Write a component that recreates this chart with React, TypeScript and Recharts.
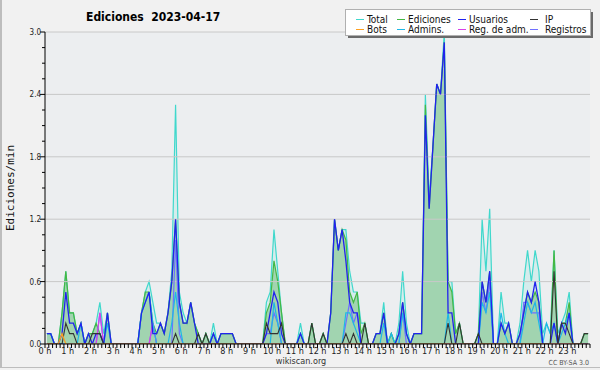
import { ComposedChart, Area, Line, XAxis, YAxis, ReferenceLine, ReferenceArea } from 'recharts';

// one value per 10 minutes, 6 per row = one hour per row
const total = [
  0.1, 0.1, 0, 0, 0.3, 0.7,
  0.3, 0.3, 0.1, 0.2, 0, 0.1,
  0.1, 0.2, 0.4, 0.1, 0.3, 0,
  0, 0, 0, 0, 0, 0,
  0, 0.3, 0.5, 0.6, 0.4, 0.2,
  0.2, 0.1, 0.3, 0.7, 2.3, 0.5,
  0.3, 0.2, 0.4, 0.2, 0.1, 0,
  0.1, 0, 0.2, 0, 0.1, 0.1,
  0.1, 0.1, 0, 0, 0, 0,
  0, 0, 0, 0, 0.4, 0.5,
  1.1, 0.7, 0.3, 0, 0, 0,
  0, 0.2, 0, 0, 0.2, 0,
  0, 0.1, 0, 0.3, 1.2, 0.9,
  1.1, 1.1, 0.7, 0.5, 0.5, 0.2,
  0.2, 0, 0, 0.1, 0.1, 0.4,
  0, 0.1, 0, 0.2, 0.7, 0.2,
  0, 0.1, 0.1, 0.1, 2.4, 1.4,
  1.9, 2.5, 2.4, 3.0, 0.6, 0.6,
  0.1, 0.2, 0, 0, 0, 0,
  0.1, 1.2, 0.7, 1.3, 0, 0,
  0.5, 0.2, 0.2, 0, 0, 0.2,
  0.6, 0.9, 0.6, 0.9, 0.7, 0.1,
  0.2, 0.1, 0.9, 0.1, 0.2, 0.3,
  0.5, 0, 0, 0, 0.1, 0.1,
];

const ediciones = [
  0.1, 0.1, 0, 0, 0.3, 0.7,
  0.3, 0.3, 0.1, 0.2, 0, 0.1,
  0.1, 0.2, 0.1, 0, 0.3, 0,
  0, 0, 0, 0, 0, 0,
  0, 0.3, 0.5, 0.5, 0.2, 0.1,
  0.2, 0.1, 0.3, 0.6, 1.2, 0.4,
  0.2, 0.2, 0.4, 0.2, 0.1, 0,
  0.1, 0, 0.1, 0, 0.1, 0.1,
  0.1, 0.1, 0, 0, 0, 0,
  0, 0, 0, 0, 0.3, 0.4,
  0.8, 0.6, 0.3, 0, 0, 0,
  0, 0.1, 0, 0, 0.2, 0,
  0, 0.1, 0, 0.3, 1.2, 0.9,
  1.1, 1.0, 0.5, 0.4, 0.5, 0.1,
  0.2, 0, 0, 0.1, 0.1, 0.3,
  0, 0.1, 0, 0.1, 0.4, 0.1,
  0, 0.1, 0.1, 0.1, 2.3, 1.3,
  1.9, 2.5, 2.4, 2.9, 0.6, 0.5,
  0.1, 0.2, 0, 0, 0, 0,
  0.1, 0.6, 0.4, 0.7, 0, 0,
  0.2, 0.1, 0.2, 0, 0, 0.1,
  0.3, 0.5, 0.4, 0.5, 0.4, 0,
  0, 0, 0.9, 0, 0.2, 0.2,
  0.4, 0, 0, 0, 0.1, 0.1,
];

const usuarios = [
  0.1, 0.1, 0, 0, 0.1, 0.5,
  0.2, 0.2, 0.1, 0.2, 0, 0.1,
  0, 0.1, 0.1, 0, 0.3, 0,
  0, 0, 0, 0, 0, 0,
  0, 0.3, 0.4, 0.5, 0.1, 0.1,
  0.2, 0.1, 0.3, 0.6, 1.2, 0.4,
  0.2, 0.2, 0.4, 0.2, 0, 0,
  0, 0, 0.1, 0, 0.1, 0.1,
  0.1, 0.1, 0, 0, 0, 0,
  0, 0, 0, 0, 0.1, 0.3,
  0.5, 0.4, 0.1, 0, 0, 0,
  0, 0.1, 0, 0, 0, 0,
  0, 0, 0, 0.3, 1.2, 0.9,
  1.1, 0.8, 0.4, 0.3, 0.3, 0,
  0, 0, 0, 0.1, 0.1, 0.3,
  0, 0, 0, 0.1, 0.4, 0.1,
  0, 0.1, 0.1, 0.1, 2.2, 1.3,
  1.9, 2.5, 2.4, 2.9, 0.3, 0.3,
  0, 0, 0, 0, 0, 0,
  0, 0.6, 0.4, 0.7, 0, 0,
  0.2, 0.1, 0.2, 0, 0, 0.1,
  0.3, 0.5, 0.4, 0.6, 0.4, 0,
  0, 0, 0.2, 0, 0.2, 0.1,
  0.3, 0, 0, 0, 0, 0,
];

const ip = [
  0, 0, 0, 0, 0, 0.2,
  0.1, 0.1, 0, 0, 0, 0,
  0.1, 0.1, 0.1, 0, 0, 0,
  0, 0, 0, 0, 0, 0,
  0, 0, 0, 0, 0, 0,
  0, 0, 0, 0, 0.1, 0,
  0, 0, 0, 0, 0.1, 0,
  0.1, 0, 0, 0, 0, 0,
  0, 0, 0, 0, 0, 0,
  0, 0, 0, 0, 0.2, 0.1,
  0.1, 0.1, 0.2, 0, 0, 0,
  0, 0, 0, 0, 0.2, 0,
  0, 0.1, 0, 0, 0, 0,
  0, 0.1, 0, 0.1, 0, 0,
  0.2, 0, 0, 0, 0, 0,
  0, 0, 0, 0, 0, 0,
  0, 0, 0, 0, 0, 0,
  0, 0, 0, 0, 0.2, 0,
  0, 0.2, 0, 0, 0, 0,
  0.1, 0, 0, 0, 0, 0,
  0, 0, 0, 0, 0, 0,
  0, 0, 0, 0, 0, 0,
  0, 0, 0.7, 0, 0.2, 0.2,
  0.1, 0, 0, 0, 0.1, 0.1,
];

const bots = [
  0, 0, 0, 0, 0.1, 0,
  ...new Array(138).fill(0),
];

const admins = [
  0.1, 0.1, 0, 0, 0, 0,
  0, 0, 0, 0.2, 0, 0,
  0, 0, 0, 0, 0.2, 0,
  0, 0, 0, 0, 0, 0,
  0, 0.3, 0.4, 0.5, 0.2, 0,
  0, 0, 0, 0.2, 0.5, 0.2,
  0, 0, 0, 0, 0, 0,
  0, 0, 0.1, 0, 0, 0,
  0, 0, 0, 0, 0, 0,
  0, 0, 0, 0, 0, 0,
  0.4, 0.2, 0, 0, 0, 0,
  0, 0.1, 0, 0, 0, 0,
  0, 0, 0, 0, 0, 0,
  0, 0.3, 0.3, 0.2, 0.1, 0,
  0, 0, 0, 0, 0, 0.2,
  0, 0.1, 0, 0, 0.3, 0.1,
  0, 0, 0, 0, 0, 0,
  0, 0, 0, 0, 0.3, 0,
  0, 0, 0, 0, 0, 0,
  0, 0.4, 0.3, 0.5, 0, 0,
  0.3, 0.1, 0, 0, 0, 0,
  0.2, 0.4, 0.3, 0.4, 0.2, 0,
  0.2, 0.1, 0.2, 0, 0.1, 0.2,
  0.3, 0, 0, 0, 0, 0,
];

const regAdm = [
  0, 0, 0, 0, 0, 0,
  0, 0, 0, 0, 0, 0,
  0, 0, 0.3, 0, 0, 0,
  0, 0, 0, 0, 0, 0,
  0, 0, 0, 0, 0.2, 0,
  ...new Array(114).fill(0),
];

const registros = [
  0, 0, 0, 0, 0, 0,
  0, 0, 0, 0, 0, 0,
  0, 0, 0.3, 0, 0, 0,
  0, 0, 0, 0, 0, 0,
  0, 0, 0, 0, 0.2, 0,
  0, 0, 0, 0, 1.0, 0.1,
  0, 0, 0, 0, 0, 0,
  0, 0, 0, 0, 0, 0,
  0, 0, 0, 0, 0, 0,
  0, 0, 0, 0, 0.1, 0.1,
  0.3, 0.2, 0, 0, 0, 0,
  0, 0, 0, 0, 0, 0,
  0, 0, 0, 0, 0, 0,
  0, 0.2, 0.4, 0.2, 0.3, 0,
  0, 0, 0, 0, 0, 0,
  0, 0, 0, 0, 0.3, 0,
  0, 0, 0, 0, 0, 0,
  0, 0, 0, 0, 0, 0,
  0, 0, 0, 0, 0, 0,
  0, 0.5, 0.3, 0.6, 0, 0,
  0, 0, 0, 0, 0, 0,
  0.4, 0.4, 0.3, 0.3, 0.3, 0,
  0, 0, 0, 0, 0, 0,
  0, 0, 0, 0, 0, 0,
];

const hourLabels = [
  '0 h', '1 h', '2 h', '3 h', '4 h', '5 h', '6 h', '7 h', '8 h', '9 h', '10 h', '11 h',
  '12 h', '13 h', '14 h', '15 h', '16 h', '17 h', '18 h', '19 h', '20 h', '21 h', '22 h', '23 h',
];
const yTicks = [
  0, 0.15, 0.3, 0.45, 0.6, 0.75, 0.9, 1.05, 1.2, 1.35, 1.5, 1.65, 1.8, 1.95, 2.1, 2.25, 2.4,
  2.55, 2.7, 2.85, 3.0,
];
const yMajor = [0, 0.6, 1.2, 1.8, 2.4, 3.0];
const gridLines = [0.6, 1.2, 1.8, 2.4, 3.0];
const xTicks = Array.from({ length: 145 }, (_, i) => i);

const legendRows = [
  [
    { name: 'Total', color: '#40d8cc' },
    { name: 'Ediciones', color: '#44b844' },
    { name: 'Usuarios', color: '#2222ee' },
    { name: 'IP', color: '#333333' },
  ],
  [
    { name: 'Bots', color: '#ffa020' },
    { name: 'Admins.', color: '#1eb8e6' },
    { name: 'Reg. de adm.', color: '#d840e8' },
    { name: 'Registros', color: '#7070ff' },
  ],
];

const data = total.map((t, i) => ({
  x: i + 0.5,
  total: t,
  ediciones: ediciones[i],
  usuarios: usuarios[i],
  ip: ip[i],
  bots: bots[i],
  admins: admins[i],
  regAdm: regAdm[i],
  registros: registros[i],
}));

const sans = "'DejaVu Sans Condensed', 'DejaVu Sans', sans-serif";

function XTick(props: any) {
  const { x, y, payload } = props;
  const v = payload.value;
  const isHour = v % 6 === 0 && v < 144;
  return (
    <g>
      <line x1={x} y1={y} x2={x} y2={y + 4} stroke="#000" strokeWidth={1} />
      {isHour && (
        <text x={x} y={y + 10} textAnchor="middle" fontSize={9} fill="#222" fontFamily={sans} style={{ fontStretch: 'condensed' }}>
          {hourLabels[v / 6]}
        </text>
      )}
    </g>
  );
}

function YTick(props: any) {
  const { x, y, payload } = props;
  const v = payload.value;
  const major = yMajor.some((m) => Math.abs(m - v) < 0.001);
  return (
    <g>
      <line x1={x - (major ? 5 : 3)} y1={y} x2={x} y2={y} stroke="#000" strokeWidth={1} />
      {major && (
        <text x={x - 4} y={y + 3} textAnchor="end" fontSize={8} fill="#222" fontFamily={sans} style={{ fontStretch: 'condensed' }}>
          {v.toFixed(1)}
        </text>
      )}
    </g>
  );
}

export default function App() {
  const lineX = [356, 397, 458, 530];
  const textX = [367, 408, 469, 545];
  const rowY = [19, 29];
  return (
    <div style={{ position: 'absolute', left: 0, top: 0, width: 600, height: 370, background: '#f1f1f1', overflow: 'hidden' }}>
      <ComposedChart width={600} height={370} data={data} margin={{ top: 32, right: 10, bottom: 0, left: 0 }}>
        <XAxis
          dataKey="x"
          type="number"
          domain={[0, 144]}
          ticks={xTicks}
          interval={0}
          height={26}
          tickSize={0}
          tickMargin={0}
          tickLine={false}
          axisLine={{ stroke: '#000' }}
          tick={XTick}
          allowDataOverflow
        />
        <YAxis
          type="number"
          domain={[0, 3]}
          ticks={yTicks}
          interval={0}
          width={45}
          tickSize={0}
          tickMargin={0}
          tickLine={false}
          axisLine={{ stroke: '#000' }}
          tick={YTick}
          allowDataOverflow
        />
        <ReferenceArea x1={0} x2={144} y1={0} y2={3} fill="#eceef0" fillOpacity={1} stroke="none" />
        {gridLines.map((g) => (
          <ReferenceLine key={g} y={g} stroke="#c8c8c8" strokeWidth={1} />
        ))}
        <Area type="linear" dataKey="total" stroke="#40d8cc" strokeWidth={1.2} fill="#40e0d0" fillOpacity={0.13} dot={false} activeDot={false} isAnimationActive={false} />
        <Area type="linear" dataKey="ediciones" stroke="#44b844" strokeWidth={1.2} fill="#44a844" fillOpacity={0.36} dot={false} activeDot={false} isAnimationActive={false} />
        <Line type="linear" dataKey="registros" stroke="#7070ff" strokeWidth={1.2} dot={false} activeDot={false} isAnimationActive={false} />
        <Line type="linear" dataKey="regAdm" stroke="#d840e8" strokeWidth={1.2} dot={false} activeDot={false} isAnimationActive={false} />
        <Line type="linear" dataKey="admins" stroke="#1eb8e6" strokeWidth={1.2} dot={false} activeDot={false} isAnimationActive={false} />
        <Line type="linear" dataKey="usuarios" stroke="#2222ee" strokeWidth={1.3} dot={false} activeDot={false} isAnimationActive={false} />
        <Line type="linear" dataKey="ip" stroke="#333333" strokeWidth={1.1} dot={false} activeDot={false} isAnimationActive={false} />
        <Line type="linear" dataKey="bots" stroke="#ffa020" strokeWidth={1.2} dot={false} activeDot={false} isAnimationActive={false} />
      </ComposedChart>
      <svg width={600} height={370} style={{ position: 'absolute', left: 0, top: 0, pointerEvents: 'none' }}>
        <line x1={1} y1={0} x2={1} y2={368} stroke="#bdbdbd" strokeWidth={2} />
        <line x1={0} y1={367.5} x2={600} y2={367.5} stroke="#bdbdbd" strokeWidth={1} />
        <text x={86} y={21} fontSize={12} fontWeight="bold" fill="#000" fontFamily={sans} style={{ whiteSpace: 'pre', fontStretch: 'condensed' }}>
          {'Ediciones  2023-04-17'}
        </text>
        <text
          x={14}
          y={188}
          transform="rotate(-90 14 188)"
          textAnchor="middle"
          fontSize={11}
          fill="#111"
          fontFamily="'DejaVu Sans Mono', monospace"
        >
          Ediciones/min
        </text>
        <text x={301} y={364} textAnchor="middle" fontSize={9} fill="#333" fontFamily={sans} style={{ fontStretch: 'condensed' }}>
          wikiscan.org
        </text>
        <text x={589} y={365} textAnchor="end" fontSize={7} fill="#555" fontFamily={sans} style={{ fontStretch: 'condensed' }}>
          CC BY-SA 3.0
        </text>
        <rect x={348} y={12} width={245} height={26} fill="#6a6a6a" />
        <rect x={345.5} y={9.5} width={245} height={26} fill="#fff" stroke="#b0b0b0" />
        {legendRows.map((row, r) =>
          row.map((item, c) => (
            <g key={item.name}>
              <line x1={lineX[c]} y1={rowY[r] + 0.5} x2={lineX[c] + 8} y2={rowY[r] + 0.5} stroke={item.color} strokeWidth={1} />
              <text x={textX[c]} y={rowY[r] + 4} fontSize={10} fill="#111" fontFamily={sans} style={{ fontStretch: 'condensed' }}>
                {item.name}
              </text>
            </g>
          )),
        )}
      </svg>
    </div>
  );
}
